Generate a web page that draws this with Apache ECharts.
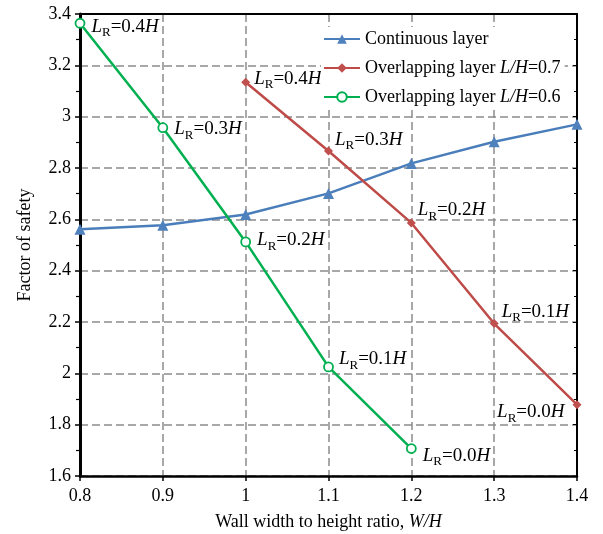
<!DOCTYPE html>
<html><head><meta charset="utf-8">
<script src="https://cdn.jsdelivr.net/npm/echarts@6/dist/echarts.min.js"></script>
<style>html,body{margin:0;padding:0;background:#fff}#c{width:603px;height:534px}</style>
</head><body><div id="c"></div>
<script>
const xValues = [0.8, 0.9, 1.0, 1.1, 1.2, 1.3, 1.4];
const continuousLayer = [2.561, 2.577, 2.619, 2.701, 2.818, 2.902, 2.970];
const overlapX07 = [1.0, 1.1, 1.2, 1.3, 1.4];
const overlap07 = [3.134, 2.866, 2.586, 2.194, 1.878];
const overlap07Labels = ['0.4', '0.3', '0.2', '0.1', '0.0'];
const overlapX06 = [0.8, 0.9, 1.0, 1.1, 1.2];
const overlap06 = [3.364, 2.957, 2.512, 2.025, 1.707];
const overlap06Labels = ['0.4', '0.3', '0.2', '0.1', '0.0'];
const seriesNames = ['Continuous layer', 'Overlapping layer L/H=0.7', 'Overlapping layer L/H=0.6'];

// label placement styles (not data)
const pos07 = [['right',[-2,-4]],['right',[-4,-12]],['right',[-4,-13]],['right',[-3,-12]],['left',[-2,7]]];
const pos06 = [['right',[0,3]],['right',[0,1]],['right',[0,-2]],['right',[-1,-8]],['right',[0,7]]];

const FONT = '"Liberation Serif","DejaVu Serif",serif';
const FS = 18;
const rich = {
  i:{fontFamily:FONT,fontSize:19,fontStyle:'italic',color:'#000',lineHeight:20,verticalAlign:'bottom'},
  s:{fontFamily:FONT,fontSize:13,color:'#000',lineHeight:15,verticalAlign:'bottom',padding:[0,0,-3,0]},
  n:{fontFamily:FONT,fontSize:19,color:'#000',lineHeight:20,verticalAlign:'bottom'}
};
function lbl(v){ return '{i|L}{s|R}{n|=' + v + '}{i|H}'; }
function build(xs, ys, labs, pos){
  return xs.map((x,k)=>({value:[x, ys[k]], label:{show:true, position:pos[k][0], offset:pos[k][1], distance:6, formatter:lbl(labs[k]), rich:rich}}));
}

const chart = echarts.init(document.getElementById('c'), null, {renderer:'canvas'});
const gridDash = {color:'#8c8c8c', width:1.5, type:[8,4]};
chart.setOption({
  animation:false,
  backgroundColor:'#fff',
  grid:{left:80, right:26, top:14, bottom:58, containLabel:false, outerBoundsMode:'none'},
  legend:{
    orient:'vertical', left:321, top:27, itemWidth:36, itemHeight:12, itemGap:11,
    backgroundColor:'#fff', padding:[3,4,3,2],
    textStyle:{fontFamily:FONT, fontSize:FS, color:'#000', rich:{
      t:{fontFamily:FONT,fontSize:FS,color:'#000'},
      it:{fontFamily:FONT,fontSize:FS,fontStyle:'italic',color:'#000'}}},
    formatter:function(name){
      if(name.indexOf('L/H')>=0){
        const parts = name.split('L/H');
        return '{t|' + parts[0] + '}{it|L/H}{t|' + parts[1] + '}';
      }
      return '{t|' + name + '}';
    },
    data: seriesNames
  },
  xAxis:[{
    type:'value', min:0.8, max:1.4, interval:0.1, position:'bottom',
    axisLine:{show:true, onZero:false, lineStyle:{color:'#000', width:2.5}},
    axisTick:{show:true, inside:false, length:5, lineStyle:{color:'#000', width:1.5}},
    axisLabel:{fontFamily:FONT, fontSize:FS, color:'#000', margin:11, formatter:v=>String(Math.round(v*10)/10)},
    splitLine:{show:true, lineStyle:gridDash},
    name:'Wall width to height ratio, {it|W/H}', nameLocation:'middle', nameGap:37,
    nameTextStyle:{fontFamily:FONT, fontSize:FS, color:'#000', rich:{it:{fontFamily:FONT,fontSize:FS,fontStyle:'italic',color:'#000'}}}
  },{
    type:'value', min:0.8, max:1.4, interval:0.1, position:'top',
    axisLine:{show:true, onZero:false, lineStyle:{color:'#000', width:2}},
    axisTick:{show:false}, axisLabel:{show:false}, splitLine:{show:false}
  }],
  yAxis:[{
    type:'value', min:1.6, max:3.4, interval:0.2, position:'left',
    axisLine:{show:true, onZero:false, lineStyle:{color:'#000', width:3}},
    axisTick:{show:true, inside:false, length:5, lineStyle:{color:'#000', width:1.5}},
    minorTick:{show:true, splitNumber:2, length:4, lineStyle:{color:'#000', width:1.2}},
    axisLabel:{fontFamily:FONT, fontSize:FS, color:'#000', margin:9, formatter:v=>String(Math.round(v*10)/10)},
    splitLine:{show:true, lineStyle:gridDash},
    name:'Factor of safety', nameLocation:'middle', nameGap:46,
    nameTextStyle:{fontFamily:FONT, fontSize:FS, color:'#000'}
  },{
    type:'value', min:1.6, max:3.4, interval:0.2, position:'right',
    axisLine:{show:true, onZero:false, lineStyle:{color:'#000', width:2}},
    axisTick:{show:true, inside:true, length:4, lineStyle:{color:'#000', width:1}},
    minorTick:{show:true, splitNumber:2, length:3, lineStyle:{color:'#000', width:1}},
    axisLabel:{show:false}, splitLine:{show:false}
  }],
  series:[{
    name:seriesNames[0], type:'line', data:xValues.map((x,k)=>[x, continuousLayer[k]]),
    symbol:'triangle', symbolSize:11,
    lineStyle:{color:'#4a7ebb', width:2.5}, itemStyle:{color:'#4f81bd'}, z:3
  },{
    name:seriesNames[1], type:'line', data:build(overlapX07, overlap07, overlap07Labels, pos07),
    symbol:'diamond', symbolSize:9,
    lineStyle:{color:'#be4b48', width:2.5}, itemStyle:{color:'#c0504d'}, z:3
  },{
    name:seriesNames[2], type:'line', data:build(overlapX06, overlap06, overlap06Labels, pos06),
    symbol:'circle', symbolSize:9,
    lineStyle:{color:'#00b050', width:2.5}, itemStyle:{color:'#fff', borderColor:'#00b050', borderWidth:1.8}, z:4
  }]
});
</script></body></html>
